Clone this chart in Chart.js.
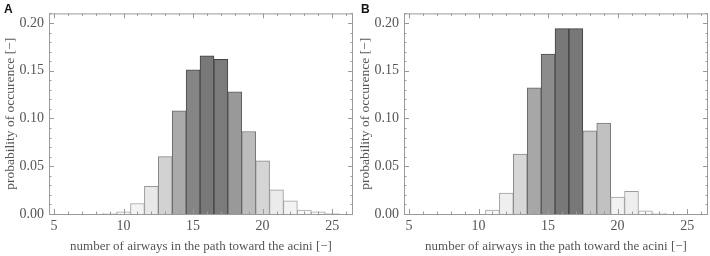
<!DOCTYPE html>
<html>
<head>
<meta charset="utf-8">
<script src="https://cdn.jsdelivr.net/npm/chart.js@4/dist/chart.umd.min.js"></script>
<style>
  html, body { margin: 0; padding: 0; background: #fff; }
  .panel { position: absolute; top: 0; width: 355px; height: 256px; }
  .panel canvas { width: 355px; height: 256px; }
  .letter { position: absolute; top: 2px; font: bold 12px "Liberation Sans", Arial, sans-serif; color: #111; }
</style>
</head>
<body>
<div class="panel" style="left:0"><canvas id="chartA" width="355" height="256"></canvas></div>
<div class="panel" style="left:355px"><canvas id="chartB" width="355" height="256"></canvas></div>
<div class="letter" style="left:4px">A</div>
<div class="letter" style="left:361px">B</div>
<script>
const airwayCounts = [9, 10, 11, 12, 13, 14, 15, 16, 17, 18, 19, 20, 21, 22, 23, 24, 25];
const probabilityA = [0.0008, 0.0022, 0.011, 0.029, 0.060, 0.108, 0.151, 0.1655, 0.162, 0.128, 0.0864, 0.0557, 0.0254, 0.0138, 0.004, 0.0022, 0.0005];
const probabilityB = [null, null, 0.004, 0.0218, 0.0626, 0.132, 0.1675, 0.194, 0.194, 0.087, 0.0953, 0.0178, 0.0237, 0.0033, 0.001, null, null];
const xTickValues = [5, 10, 15, 20, 25];
const yTickValues = [0, 0.05, 0.10, 0.15, 0.20];

const xTitle = "number of airways in the path toward the acini [\u2212]";
const yTitle = "probability of occurence [\u2212]";

const textColor = "#555555";
const frameColor = "#9a9a9a";

function barShade(value, maxValue) {
  const t = Math.pow(value / maxValue, 1.15);
  const g = Math.round(250 - 130 * t);
  return `rgb(${g},${g},${g})`;
}

function barEdge(value, maxValue) {
  const t = Math.pow(value / maxValue, 1.15);
  const g = Math.round(165 - 100 * t);
  return `rgb(${g},${g},${g})`;
}

// Mathematica-style frame with inward ticks on all four sides
const frameTicks = {
  id: "frameTicks",
  afterDatasetsDraw(chart) {
    const { ctx, chartArea: a, scales } = chart;
    const xs = scales.x;
    const ys = scales.y;
    ctx.save();
    ctx.strokeStyle = frameColor;
    ctx.lineWidth = 1;
    ctx.strokeRect(a.left + 0.5, a.top + 0.5, a.right - a.left - 1, a.bottom - a.top);

    ctx.beginPath();
    for (let v = 5; v <= 26; v++) {
      const px = Math.round(xs.getPixelForValue(v)) + 0.5;
      const len = v % 5 === 0 ? 5 : 2.5;
      ctx.moveTo(px, a.bottom);
      ctx.lineTo(px, a.bottom - len);
      ctx.moveTo(px, a.top);
      ctx.lineTo(px, a.top + len);
    }
    for (let i = 0; i <= 21; i++) {
      const v = i / 100;
      const py = Math.round(ys.getPixelForValue(v)) + 0.5;
      const len = i % 5 === 0 ? 5 : 2.5;
      ctx.moveTo(a.left, py);
      ctx.lineTo(a.left + len, py);
      ctx.moveTo(a.right, py);
      ctx.lineTo(a.right - len, py);
    }
    ctx.stroke();
    ctx.restore();
  }
};

function buildChart(canvasId, values) {
  const maxValue = Math.max(...values.filter((v) => v !== null));
  const points = airwayCounts.map((x, i) => ({ x, y: values[i] }));
  const ctx = document.getElementById(canvasId).getContext("2d");

  return new Chart(ctx, {
    type: "bar",
    data: {
      datasets: [
        {
          data: points,
          backgroundColor: values.map((v) => (v === null ? "transparent" : barShade(v, maxValue))),
          borderColor: values.map((v) => (v === null ? "transparent" : barEdge(v, maxValue))),
          borderWidth: 1,
          borderSkipped: "bottom",
          barPercentage: 1,
          categoryPercentage: 1
        }
      ]
    },
    options: {
      responsive: false,
      animation: false,
      devicePixelRatio: 1,
      layout: { padding: { top: 2, right: 2, left: 0, bottom: 0 } },
      plugins: {
        legend: { display: false },
        tooltip: { enabled: false }
      },
      scales: {
        x: {
          type: "linear",
          offset: false,
          min: 4.64,
          max: 26.5,
          afterBuildTicks: (scale) => {
            scale.ticks = xTickValues.map((value) => ({ value }));
          },
          afterFit: (scale) => {
            scale.height = 42;
          },
          grid: { display: false, drawTicks: false, offset: false },
          border: { display: false },
          ticks: {
            color: textColor,
            font: { family: "Liberation Serif", size: 14 },
            padding: 4,
            maxRotation: 0,
            autoSkip: false
          },
          title: {
            display: true,
            text: xTitle,
            color: textColor,
            font: { family: "Liberation Serif", size: 13 },
            padding: { top: 0, bottom: 2 }
          }
        },
        y: {
          min: 0,
          max: 0.21,
          afterBuildTicks: (scale) => {
            scale.ticks = yTickValues.map((value) => ({ value }));
          },
          afterFit: (scale) => {
            scale.width = 49;
          },
          grid: { display: false, drawTicks: false },
          border: { display: false },
          ticks: {
            color: textColor,
            font: { family: "Liberation Serif", size: 14 },
            padding: 5,
            callback: (value) => Number(value).toFixed(2)
          },
          title: {
            display: true,
            text: yTitle,
            color: textColor,
            font: { family: "Liberation Serif", size: 13.5 },
            padding: { top: 2, bottom: 0 }
          }
        }
      }
    },
    plugins: [frameTicks]
  });
}

buildChart("chartA", probabilityA);
buildChart("chartB", probabilityB);
</script>
</body>
</html>
